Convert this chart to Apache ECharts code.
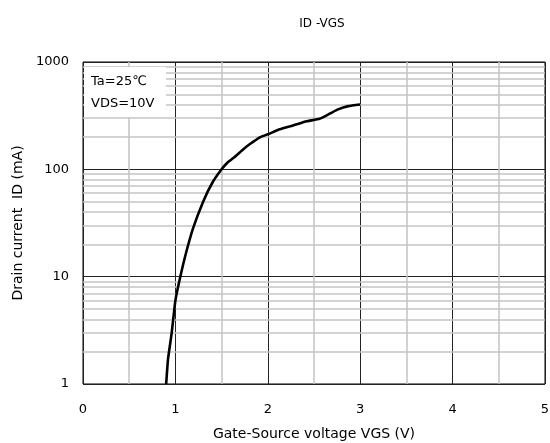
<!DOCTYPE html>
<html>
<head>
<meta charset="utf-8">
<script src="https://cdn.jsdelivr.net/npm/echarts@6/dist/echarts.min.js"></script>
<style>
  html, body { margin: 0; padding: 0; background: #fff; }
  #chart { width: 550px; height: 443px; }
</style>
</head>
<body>
<div id="chart"></div>
<script>
// ID-VGS curve
var vgs = [0.90, 0.92, 0.96, 1.00, 1.05, 1.11, 1.19, 1.30, 1.40, 1.50, 1.57, 1.63, 1.72, 1.81, 1.92, 2.00, 2.13, 2.28, 2.42, 2.56, 2.67, 2.76, 2.87, 3.00];
var idMA = [1, 1.7, 3.0, 6.0, 9.7, 16, 28, 50, 75, 100, 117, 128, 150, 173, 200, 212, 236, 257, 280, 296, 330, 362, 388, 402];
var xTicks = [0, 1, 2, 3, 4, 5];
var yTicks = [1, 10, 100, 1000];
var yMinor = [2, 3, 4, 5, 6, 7, 8, 9, 20, 30, 40, 50, 60, 70, 80, 90, 200, 300, 400, 500, 600, 700, 800, 900];

var font = '"DejaVu Sans", sans-serif';
var chart = echarts.init(document.getElementById('chart'));

var option = {
  animation: false,
  textStyle: { fontFamily: font },
  title: {
    text: 'ID -VGS',
    left: 317,
    textAlign: 'center',
    top: 13,
    textStyle: { fontSize: 12, fontWeight: 'normal', color: '#000', fontFamily: font }
  },
  grid: {
    left: 83, right: 5, top: 62, bottom: 59,
    containLabel: false,
    outerBoundsMode: 'none',
    show: true, borderColor: '#000', borderWidth: 1, backgroundColor: '#fff'
  },
  xAxis: {
    type: 'value',
    min: 0,
    max: 5,
    interval: 1,
    name: 'Gate-Source voltage VGS (V)',
    nameLocation: 'middle',
    nameGap: 43,
    nameTextStyle: { fontSize: 14, color: '#000' },
    axisLine: { show: false },
    axisTick: { show: false },
    axisLabel: {
      fontSize: 13, color: '#000', margin: 19,
      formatter: function (v) { return xTicks.indexOf(v) >= 0 ? String(v) : ''; }
    },
    splitLine: { show: true, lineStyle: { color: '#222', width: 1 } },
    minorTick: { show: false, splitNumber: 2 },
    minorSplitLine: { show: true, lineStyle: { color: '#c4c4c4', width: 1.5 } }
  },
  yAxis: {
    type: 'log',
    logBase: 10,
    min: 1,
    max: 1000,
    name: 'Drain current  ID (mA)',
    nameLocation: 'middle',
    nameGap: 47,
    nameRotate: 90,
    nameTextStyle: { fontSize: 14, color: '#000' },
    axisLine: { show: false },
    axisTick: { show: false },
    axisLabel: {
      fontSize: 13, color: '#000', margin: 14,
      formatter: function (v) {
        var r = Math.round(v);
        return yTicks.indexOf(r) >= 0 ? String(r) : '';
      }
    },
    splitLine: { show: true, lineStyle: { color: '#222', width: 1 } }
  },
  series: [
    {
      // light minor grid for the log axis
      type: 'line',
      data: [],
      z: 1,
      silent: true,
      markLine: {
        silent: true,
        symbol: 'none',
        label: { show: false },
        lineStyle: { color: '#c4c4c4', width: 1.5, type: 'solid' },
        data: yMinor.map(function (v) { return { yAxis: v }; })
      }
    },
    {
      type: 'line',
      z: 5,
      data: vgs.map(function (v, i) { return [v, idMA[i]]; }),
      showSymbol: false,
      smooth: 0.15,
      lineStyle: { color: '#000', width: 2.6 }
    }
  ],
  graphic: [
    {
      type: 'rect',
      left: 84,
      top: 67,
      z: 100,
      shape: { width: 82, height: 50 },
      style: { fill: '#fff' }
    },
    {
      type: 'text',
      left: 91,
      top: 75,
      z: 101,
      style: { text: 'Ta=25℃', fontSize: 13, fill: '#000', fontFamily: font }
    },
    {
      type: 'text',
      left: 91,
      top: 97,
      z: 101,
      style: { text: 'VDS=10V', fontSize: 13, fill: '#000', fontFamily: font }
    }
  ]
};
chart.setOption(option);
</script>
</body>
</html>
